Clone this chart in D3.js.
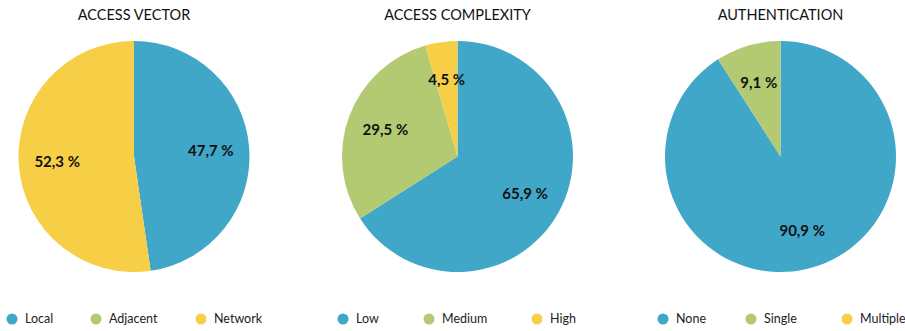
<!DOCTYPE html>
<html>
<head>
<meta charset="utf-8">
<script src="https://cdn.jsdelivr.net/npm/d3@7"></script>
<style>
  html, body { margin: 0; padding: 0; background: #fff; }
  svg { display: block; font-family: Lato, "Noto Sans", sans-serif; }
</style>
</head>
<body>
<svg id="chart" width="905" height="331"></svg>
<script>
// Chart titles
const titles = ["ACCESS VECTOR", "ACCESS COMPLEXITY", "AUTHENTICATION"];

// Category names per chart
const vectorCategories = ["Local", "Adjacent", "Network"];
const complexityCategories = ["Low", "Medium", "High"];
const authCategories = ["None", "Single", "Multiple"];

// Share (%) per category
const vectorValues = [47.7, 0, 52.3];
const complexityValues = [65.9, 29.5, 4.5];
const authValues = [90.9, 9.1, 0];

const palette = ["#41a7c9", "#b3c972", "#f7cf46"];

const charts = [
  { title: titles[0], cats: vectorCategories, vals: vectorValues },
  { title: titles[1], cats: complexityCategories, vals: complexityValues },
  { title: titles[2], cats: authCategories, vals: authValues }
];

const svg = d3.select("#chart");
const centersX = [134, 457.5, 780.5];
const cy = 156.5, r = 115.5;
const legendX = [[12, 96, 201], [343, 429, 537], [663, 751, 847]];

const color = d3.scaleOrdinal().domain([0, 1, 2]).range(palette);
const pie = d3.pie().sort(null).value(d => d.v);
const arc = d3.arc().innerRadius(0).outerRadius(r);
const labelArc = d3.arc().innerRadius(r * 0.667).outerRadius(r * 0.667);
const fmt = v => d3.format(".1f")(v).replace(".", ",") + " %";

charts.forEach((c, i) => {
  const data = c.cats.map((name, k) => ({ name, v: c.vals[k], k }));
  const g = svg.append("g").attr("transform", `translate(${centersX[i]},${cy})`);

  svg.append("text")
    .attr("x", centersX[i]).attr("y", 20)
    .attr("text-anchor", "middle")
    .attr("font-size", 14.5)
    .attr("fill", "#111")
    .text(c.title);

  const arcs = pie(data);
  g.selectAll("path").data(arcs).join("path")
    .attr("d", arc)
    .attr("fill", d => color(d.data.k));

  g.selectAll("text").data(arcs.filter(d => d.data.v > 0)).join("text")
    .attr("transform", d => `translate(${labelArc.centroid(d)})`)
    .attr("text-anchor", "middle")
    .attr("dy", "0.35em")
    .attr("font-size", 15)
    .attr("font-weight", "bold")
    .attr("fill", "#111")
    .text(d => fmt(d.data.v));

  const lg = svg.append("g");
  data.forEach((d, k) => {
    const x = legendX[i][k];
    lg.append("circle").attr("cx", x).attr("cy", 319).attr("r", 5.5).attr("fill", color(k));
    lg.append("text").attr("x", x + 13).attr("y", 319).attr("dy", "0.35em")
      .attr("font-size", 12.5).attr("fill", "#222").text(d.name);
  });
});
</script>
</body>
</html>
